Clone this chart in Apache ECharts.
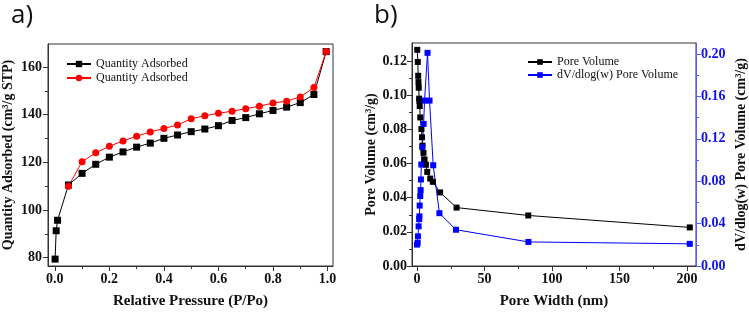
<!DOCTYPE html>
<html>
<head>
<meta charset="utf-8">
<script src="https://cdn.jsdelivr.net/npm/echarts@6/dist/echarts.min.js"></script>
<style>
  html, body { margin: 0; padding: 0; background: #fff; }
  #chart { width: 749px; height: 314px; }
</style>
</head>
<body>
<div id="chart"></div>
<script>
// ---------------------------------------------------------------
// Data
// ---------------------------------------------------------------

// a) isotherm
var pressureAds = [0.001, 0.005, 0.01, 0.05, 0.10, 0.15, 0.20, 0.25, 0.30, 0.35, 0.40, 0.45, 0.50,
  0.55, 0.60, 0.65, 0.70, 0.75, 0.80, 0.85, 0.90, 0.95, 0.995];
var quantityAds = [79.4, 91.3, 95.7, 110.5, 115.4, 119.2, 122.2, 124.4, 126.4, 128.1, 130.1, 131.5, 132.9,
  134.0, 135.4, 137.6, 138.8, 140.4, 141.8, 143.2, 145.1, 148.5, 166.5];
var pressureDes = [0.05, 0.10, 0.15, 0.20, 0.25, 0.30, 0.35, 0.40, 0.45, 0.50,
  0.55, 0.60, 0.65, 0.70, 0.75, 0.80, 0.85, 0.90, 0.95, 0.995];
var quantityDes = [110.0, 120.3, 124.0, 126.8, 129.0, 131.0, 132.8, 134.2, 135.7, 138.3,
  139.6, 140.6, 141.5, 142.5, 143.6, 144.9, 145.7, 147.5, 151.4, 166.5];

// b) pore size distribution
var widthVolume = [0.2, 0.6, 0.9, 1.1, 1.3, 1.6, 1.8, 2.0, 2.4, 3.3, 3.7, 4.1, 4.8, 5.6, 6.6, 7.6,
  9.8, 11.7, 17.1, 29.3, 82.4, 202];
var poreVolume = [0.1266, 0.1195, 0.1114, 0.1077, 0.1044, 0.098, 0.0966, 0.0937, 0.087, 0.0802, 0.0754,
  0.0705, 0.0663, 0.0624, 0.0593, 0.0551, 0.0512, 0.0493, 0.0431, 0.0342, 0.0296, 0.0226];
var widthDist = [0.0, 0.5, 0.7, 1.2, 1.6, 1.8, 2.0, 2.4, 2.7, 2.9, 3.2, 3.9, 4.9, 5.6, 7.8, 9.3,
  12.0, 16.6, 28.9, 82.5, 202];
var dVdlogW = [0.0202, 0.0218, 0.028, 0.0374, 0.0442, 0.0468, 0.057, 0.066, 0.0716, 0.0816, 0.0957,
  0.112, 0.134, 0.156, 0.201, 0.156, 0.095, 0.0498, 0.0342, 0.0227, 0.0209];

// tick labels
var pressureTicks = [0, 0.2, 0.4, 0.6, 0.8, 1.0];
var pressureMinor = [0.1, 0.3, 0.5, 0.7, 0.9];
var quantityTicks = [80, 100, 120, 140, 160];
var quantityMinor = [90, 110, 130, 150];
var widthTicks = [0, 50, 100, 150, 200];
var widthMinor = [25, 75, 125, 175];
var volumeTicks = [0, 0.02, 0.04, 0.06, 0.08, 0.10, 0.12];
var volumeMinor = [0.01, 0.03, 0.05, 0.07, 0.09, 0.11];
var distTicks = [0, 0.04, 0.08, 0.12, 0.16, 0.20];
var distMinor = [0.02, 0.06, 0.10, 0.14, 0.18];

// ---------------------------------------------------------------
// Helpers
// ---------------------------------------------------------------
var SERIF = '"Liberation Serif", "DejaVu Serif", serif';
var FRAME = '#333';
var BLUE = '#0000ff';

function pairs(xs, ys) {
  return xs.map(function (x, i) { return [x, ys[i]]; });
}

function majorAxis(o) {
  return {
    type: 'value',
    gridIndex: o.grid,
    position: o.position,
    min: o.min,
    max: o.max,
    name: o.name,
    nameLocation: 'middle',
    nameGap: o.nameGap,
    nameMoveOverlap: false,
    nameTextStyle: {
      fontFamily: SERIF, fontWeight: 'bold', fontSize: o.nameSize || 15, color: '#111'
    },
    axisLine: { show: true, onZero: false, lineStyle: { color: o.lineColor || FRAME, width: 1 } },
    axisTick: {
      show: true, inside: false, length: 5, customValues: o.ticks,
      lineStyle: { color: o.lineColor || FRAME }
    },
    axisLabel: {
      show: true, customValues: o.ticks, margin: o.margin,
      fontFamily: SERIF, fontWeight: 'bold', fontSize: 14,
      color: o.labelColor || '#111',
      formatter: function (v) { return o.digits ? v.toFixed(o.digits) : String(v); }
    },
    splitLine: { show: false }
  };
}

function minorAxis(o) {
  return {
    type: 'value',
    gridIndex: o.grid,
    position: o.position,
    min: o.min,
    max: o.max,
    axisLine: { show: false, onZero: false },
    axisTick: {
      show: true, inside: false, length: 3, customValues: o.ticks,
      lineStyle: { color: o.lineColor || FRAME }
    },
    axisLabel: { show: false },
    splitLine: { show: false }
  };
}

// ---------------------------------------------------------------
// Chart
// ---------------------------------------------------------------
var option = {
  animation: false,
  backgroundColor: '#fff',
  graphic: [
    { type: 'text', left: 11, top: 3,
      style: { text: 'a)', fontFamily: '"Open Sans", sans-serif', fontSize: 26, fill: '#111' } },
    { type: 'text', left: 374, top: 3,
      style: { text: 'b)', fontFamily: '"Open Sans", sans-serif', fontSize: 26, fill: '#111' } }
  ],
  grid: [
    { left: 48, top: 44, width: 285, height: 224, show: true, borderColor: FRAME, borderWidth: 1 },
    { left: 412, top: 43, width: 286, height: 226, show: true, borderColor: FRAME, borderWidth: 1 }
  ],
  legend: [
    {
      left: 61, top: 53, orient: 'vertical', itemWidth: 24, itemHeight: 8, itemGap: 2,
      data: ['Quantity Adsorbed', 'Quantity Adsorbed '],
      textStyle: { fontFamily: SERIF, fontSize: 12, color: '#111' }
    },
    {
      left: 522, top: 51, orient: 'vertical', itemWidth: 24, itemHeight: 7, itemGap: 1,
      data: ['Pore Volume', 'dV/dlog(w) Pore Volume'],
      textStyle: { fontFamily: SERIF, fontSize: 12, color: '#111' }
    }
  ],
  xAxis: [
    majorAxis({ grid: 0, position: 'bottom', min: -0.025, max: 1.02, ticks: pressureTicks, digits: 1,
      name: 'Relative Pressure (P/Po)', nameGap: 28, margin: 6 }),
    minorAxis({ grid: 0, position: 'bottom', min: -0.025, max: 1.02, ticks: pressureMinor }),
    majorAxis({ grid: 1, position: 'bottom', min: -3.7, max: 206.6, ticks: widthTicks, digits: 0,
      name: 'Pore Width (nm)', nameGap: 28, margin: 6 }),
    minorAxis({ grid: 1, position: 'bottom', min: -3.7, max: 206.6, ticks: widthMinor })
  ],
  yAxis: [
    majorAxis({ grid: 0, position: 'left', min: 76.5, max: 169.7, ticks: quantityTicks, digits: 0,
      name: 'Quantity Adsorbed (cm³/g STP)', nameGap: 33, nameSize: 14, margin: 6 }),
    minorAxis({ grid: 0, position: 'left', min: 76.5, max: 169.7, ticks: quantityMinor }),
    majorAxis({ grid: 1, position: 'left', min: 0, max: 0.1306, ticks: volumeTicks, digits: 2,
      name: 'Pore Volume (cm³/g)', nameGap: 34, nameSize: 14, margin: 5 }),
    minorAxis({ grid: 1, position: 'left', min: 0, max: 0.1306, ticks: volumeMinor }),
    majorAxis({ grid: 1, position: 'right', min: 0, max: 0.2103, ticks: distTicks, digits: 2,
      name: 'dV/dlog(w) Pore Volume (cm³/g)', nameGap: 38, nameSize: 14, margin: 5,
      lineColor: '#5a5aff', labelColor: '#1010f0' }),
    minorAxis({ grid: 1, position: 'right', min: 0, max: 0.2103, ticks: distMinor, lineColor: '#5a5aff' })
  ],
  series: [
    {
      name: 'Quantity Adsorbed', type: 'line', xAxisIndex: 0, yAxisIndex: 0,
      data: pairs(pressureAds, quantityAds),
      symbol: 'rect', symbolSize: 7, itemStyle: { color: '#000' },
      lineStyle: { color: '#000', width: 1 }
    },
    {
      name: 'Quantity Adsorbed ', type: 'line', xAxisIndex: 0, yAxisIndex: 0,
      data: pairs(pressureDes, quantityDes),
      symbol: 'circle', symbolSize: 7, itemStyle: { color: '#ff0000' },
      lineStyle: { color: '#ff0000', width: 1 }
    },
    {
      name: 'Pore Volume', type: 'line', xAxisIndex: 2, yAxisIndex: 2,
      data: pairs(widthVolume, poreVolume),
      symbol: 'rect', symbolSize: 6, itemStyle: { color: '#000' },
      lineStyle: { color: '#000', width: 1 }
    },
    {
      name: 'dV/dlog(w) Pore Volume', type: 'line', xAxisIndex: 2, yAxisIndex: 4,
      data: pairs(widthDist, dVdlogW),
      symbol: 'rect', symbolSize: 6, itemStyle: { color: BLUE },
      lineStyle: { color: BLUE, width: 1 }
    }
  ]
};

var myChart = echarts.init(document.getElementById('chart'), null, { renderer: 'canvas' });
myChart.setOption(option);
</script>
</body>
</html>
